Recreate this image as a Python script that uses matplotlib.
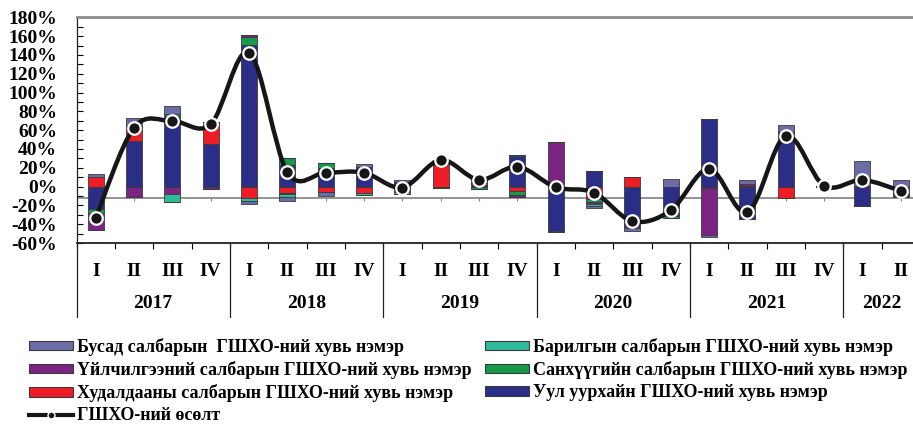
import matplotlib
matplotlib.use("Agg")
import matplotlib.pyplot as plt
from matplotlib.patches import Patch
from matplotlib.lines import Line2D
from matplotlib.path import Path
from matplotlib.patches import PathPatch
import numpy as np

plt.rcParams['font.family'] = 'Liberation Serif'
plt.rcParams['font.weight'] = 'bold'

# --- data (contribution to FDI growth, %) ---
years = ['2017', '2018', '2019', '2020', '2021', '2022']
quarter_labels = ['I', 'II', 'III', 'IV'] * 5 + ['I', 'II']

mining = [-24, 48.4, 75, 45, 151, 23, 19.4, 20.5, 5, -1, 1.5, 32,
          -47, 16.6, -42, -31, 72, -34, 58.3, 0.5, -21, -9.5]
trade = [10.6, 16, 0, 24, -12.4, -7, -5.3, -6.4, -2, 23, 2.5, -4.2,
         0, -13, 10, 0, -1, 1, -12.3, 0, 1, 0]
finance = [-4.3, 0, 1.7, 0, 8, 7.7, 5.3, 0, 0, 3, -3, -5,
           0, -3.2, 0, -2, 0, 0, 0, 0, 0, 0]
services = [-18.4, -10.6, -8, -3, 1.7, -1, 0, 0, -4, 0, 0, -1.5,
            47.7, -2.8, -2, 0, -50, 2, 0, 0, 0, -1.5]
construction = [0, 0, -8.5, 0, -3, -3, 0, -2.5, -2, 0, 0, 1.6,
                -1, -1.8, 0, 0, 0, 0, 0, 0, 0, 0]
other = [2.5, 9, 9, 0, -3, -4.2, -4.6, 3, 2, 2.5, 6, 0,
         0, -2.4, -3.5, 7.8, -2.5, 3.5, 6.9, 0.3, 26, 7]
growth = [-33.5, 62.6, 69.7, 66.2, 142.5, 15.2, 14.8, 14.8, -1, 28.3, 7.1, 21.2,
          -0.7, -6.4, -36.8, -25.4, 18.8, -27.2, 53.8, 1, 7.1, -4.6]

series = [
    ('Уул уурхайн ГШХО-ний хувь нэмэр', mining, '#2B2E87'),
    ('Худалдааны салбарын ГШХО-ний хувь нэмэр', trade, '#EE1D25'),
    ('Санхүүгийн салбарын ГШХО-ний хувь нэмэр', finance, '#149A49'),
    ('Үйлчилгээний салбарын ГШХО-ний хувь нэмэр', services, '#7B2483'),
    ('Барилгын салбарын ГШХО-ний хувь нэмэр', construction, '#2FBA9B'),
    ('Бусад салбарын  ГШХО-ний хувь нэмэр', other, '#6B6CA7'),
]
line_label = 'ГШХО-ний өсөлт'

W, H = 913, 424
fig = plt.figure(figsize=(W / 100, H / 100), dpi=100)
ax = fig.add_axes([76.5 / W, 181 / H, 843.4 / W, 225.7 / H])

x = np.arange(len(growth))
pos_bottom = np.zeros(len(x))
neg_bottom = np.zeros(len(x))
for name, vals, col in series:
    v = np.array(vals, dtype=float)
    pos = np.where(v > 0, v, 0)
    neg = np.where(v < 0, v, 0)
    ax.bar(x, pos, 0.42, bottom=pos_bottom, color=col, edgecolor='#3a3a3a',
           linewidth=0.6, zorder=3)
    ax.bar(x, neg, 0.42, bottom=neg_bottom, color=col, edgecolor='#3a3a3a',
           linewidth=0.6, zorder=3)
    pos_bottom += pos
    neg_bottom += neg

# smooth line (Catmull-Rom as Bezier curves)
pts = np.column_stack([x, growth]).astype(float)
ext = np.vstack([pts[0], pts, pts[-1]])
verts = [tuple(pts[0])]
codes = [Path.MOVETO]
for i in range(len(pts) - 1):
    p0, p1, p2, p3 = ext[i], ext[i + 1], ext[i + 2], ext[i + 3]
    c1 = p1 + (p2 - p0) / 6
    c2 = p2 - (p3 - p1) / 6
    verts += [tuple(c1), tuple(c2), tuple(p2)]
    codes += [Path.CURVE4] * 3
ax.add_patch(PathPatch(Path(verts, codes), facecolor='none', edgecolor='#161616',
                       linewidth=3.2, zorder=4, capstyle='round'))
ax.plot(x, growth, linestyle='none', marker='o', markersize=9,
        markerfacecolor='#161616', markeredgecolor='white', markeredgewidth=1.6,
        zorder=5)

# odd category line crossing near -12%
ax.axhline(-12, color='#808080', linewidth=1.2, zorder=2)
ax.vlines(x, -15.5, -12, color='#808080', linewidth=0.8, zorder=2)

ax.set_xlim(-0.5, len(x) - 0.5)
ax.set_ylim(-60, 180)
ax.set_yticks(np.arange(-60, 181, 20))
ax.set_yticks(np.arange(-60, 181, 10), minor=True)
ax.set_yticklabels([f'{v}%' for v in range(-60, 181, 20)], fontsize=14,
                   fontweight='bold')
ax.tick_params(axis='y', which='both', direction='in', length=4, width=0.8,
               pad=14, left=True, right=False)
ax.set_xticks(np.arange(-0.5, len(x), 1))
ax.set_xticklabels([])
ax.tick_params(axis='x', which='both', direction='out', length=4, width=0.8)

for s in ['right']:
    ax.spines[s].set_visible(False)
ax.spines['top'].set_color('#8c8c8c')
ax.spines['top'].set_linewidth(2)
ax.spines['left'].set_color('#222222')
ax.spines['left'].set_linewidth(0.9)
ax.spines['bottom'].set_color('#222222')
ax.spines['bottom'].set_linewidth(1.3)

# quarter / year labels
tr = ax.get_xaxis_transform()
for i, q in enumerate(quarter_labels):
    ax.text(i, -0.125, q, transform=tr, ha='center', va='center',
            fontsize=14, fontweight='bold', clip_on=False)
for k, yr in enumerate(years):
    first = 4 * k
    last = min(4 * k + 3, len(x) - 1)
    ax.text((first + last) / 2, -0.27, yr, transform=tr, ha='center',
            va='center', fontsize=14, fontweight='bold', clip_on=False)
for b in np.arange(-0.5, len(x), 4):
    ax.plot([b, b], [0, -0.33], transform=tr, color='#222222', linewidth=0.9,
            clip_on=False)

# legend, two columns
def patch(idx):
    name, _, col = series[idx]
    return Patch(facecolor=col, edgecolor='#3a3a3a', linewidth=0.8, label=name)

line_handle = Line2D([], [], color='#161616', linewidth=3, marker='o',
                     markersize=5, markerfacecolor='#161616',
                     markeredgecolor='white', markeredgewidth=1,
                     label=line_label)
common = dict(frameon=False, fontsize=13, handlelength=2.45, handleheight=0.45,
              handletextpad=0.2, labelspacing=0.28, borderpad=0,
              borderaxespad=0, loc='upper left')
leg1 = fig.legend(handles=[patch(5), patch(3), patch(1), line_handle],
                  bbox_to_anchor=(29 / W, 1 - 338 / H), **common)
leg2 = fig.legend(handles=[patch(4), patch(2), patch(0)],
                  bbox_to_anchor=(485 / W, 1 - 338 / H), **common)

fig.savefig('out.png', dpi=100, facecolor='white')
